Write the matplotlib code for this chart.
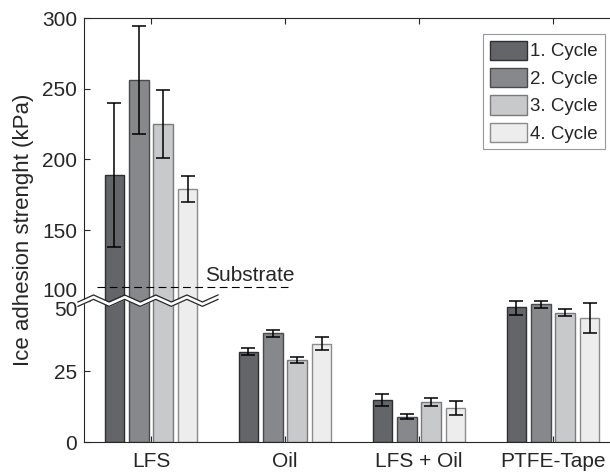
import numpy as np
import matplotlib
matplotlib.use("Agg")
import matplotlib.pyplot as plt
from matplotlib.transforms import blended_transform_factory

plt.rcParams['font.family'] = ['Liberation Sans', 'DejaVu Sans']

groups = ['LFS', 'Oil', 'LFS + Oil', 'PTFE-Tape']
cycles = ['1. Cycle', '2. Cycle', '3. Cycle', '4. Cycle']

# mean values per cycle (rows) and group (columns)
means = np.array([
    [189, 32.0, 14.9, 47.8],
    [256, 38.5, 9.0, 48.8],
    [225, 29.0, 14.0, 45.8],
    [179, 34.8, 11.9, 43.8],
])
errs = np.array([
    [51, 1.3, 2.0, 3.0],
    [38, 1.2, 1.0, 1.5],
    [24, 1.2, 1.4, 1.4],
    [9, 2.4, 2.5, 5.2],
])
substrate = 110

yticks = [0, 25, 50, 100, 150, 200, 250, 300]

fills = ['#646569', '#87888c', '#c8c9cb', '#ededed']
edges = ['#2e2e30', '#4a4a4d', '#7a7a7c', '#8c8c8c']
txt = '#262626'


# broken axis: 0-50 stretched, 100-300 compressed
def fwd(y):
    y = np.asarray(y, dtype=float)
    return np.where(y <= 50, y / 25.0, np.where(y >= 100, 2 + (y - 100) / 50.0, 2.0))


def inv(u):
    u = np.asarray(u, dtype=float)
    return np.where(u <= 2, u * 25.0, 100 + (u - 2) * 50.0)


fig = plt.figure(figsize=(6.1, 4.74), dpi=100)
ax = fig.add_axes([84 / 610, 32 / 474, 536 / 610, 424 / 474])
ax.set_yscale('function', functions=(fwd, inv))

x = np.arange(1, len(groups) + 1)
step = 0.182
width = 0.145
for i in range(len(cycles)):
    xp = x + (i - 1.5) * step
    ax.bar(xp, means[i], width, color=fills[i], edgecolor=edges[i],
           linewidth=1.0, label=cycles[i], zorder=2)
    ax.errorbar(xp, means[i], yerr=errs[i], fmt='none', ecolor='black',
                elinewidth=1.1, capsize=4.7, capthick=1.1, zorder=3)

ax.set_xlim(0.5, 4.5)
ax.set_ylim(0, 300)
ax.set_xticks(x)
ax.set_xticklabels(groups)
ax.set_yticks(yticks)
ax.set_yticklabels([str(t) for t in yticks])
ax.tick_params(direction='in', length=4, width=0.8, colors=txt,
               labelsize=15, top=True, right=True)
ax.tick_params(axis='x', pad=7)
ax.tick_params(axis='y', pad=5)
for s in ax.spines.values():
    s.set_color(txt)
    s.set_linewidth(0.8)

for lab in ax.get_yticklabels():
    if lab.get_text() == '100':
        lab.set_va('bottom')
    elif lab.get_text() == '50':
        lab.set_va('top')

ax.set_ylabel('Ice adhesion strenght (kPa)', fontsize=16, color=txt, labelpad=6)

# substrate reference
ax.plot([0.6, 2.02], [substrate, substrate], color='black', lw=0.8,
        dashes=(7, 4), zorder=4)
ax.text(1.40, 114, 'Substrate', fontsize=15, color=txt, va='baseline', zorder=5)

# zigzag break marker across the LFS group
tr = blended_transform_factory(ax.transData, ax.transAxes)
zx = np.linspace(0.455, 1.5, 10)
h = 424.0
amp = np.where(np.arange(10) % 2 == 0, -3.5, 3.5) / h
yb = 1 / 3.0
half = 2.2 / h
ax.fill_between(zx, yb + amp - half, yb + amp + half, color='white',
                transform=tr, zorder=6, clip_on=False, lw=0)
ax.plot(zx, yb + amp + half, color=txt, lw=0.9, transform=tr, zorder=7, clip_on=False)
ax.plot(zx, yb + amp - half, color=txt, lw=0.9, transform=tr, zorder=7, clip_on=False)

leg = ax.legend(loc='upper right', bbox_to_anchor=(604.5 / 610, 1 - 34 / 474),
                bbox_transform=fig.transFigure, fontsize=13.5, frameon=True,
                fancybox=False, handlelength=2.0, handleheight=1.2,
                handletextpad=0.15, labelspacing=0.4, borderpad=0.35,
                borderaxespad=0)
leg.get_frame().set_edgecolor('#808080')
leg.get_frame().set_linewidth(0.8)
for t in leg.get_texts():
    t.set_color(txt)

fig.savefig('out.png', dpi=100)
